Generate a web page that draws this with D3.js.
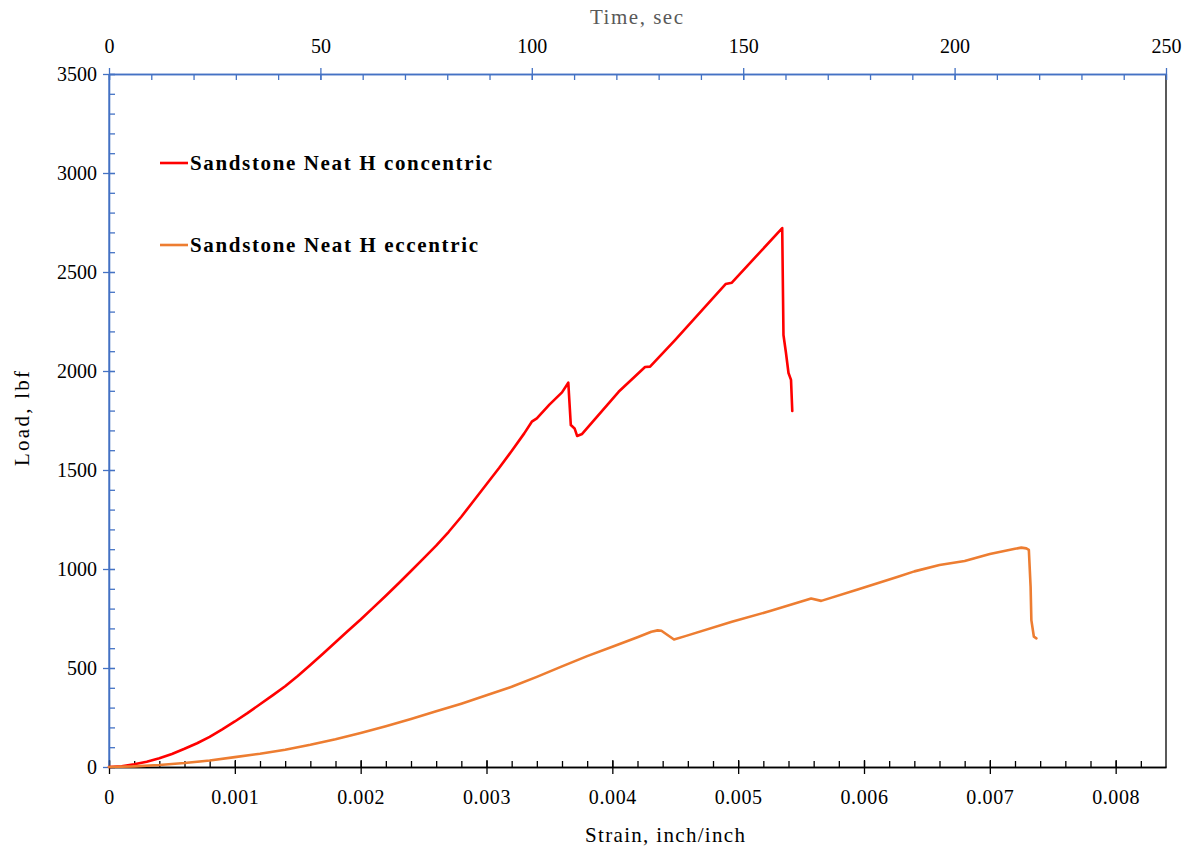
<!DOCTYPE html>
<html>
<head>
<meta charset="utf-8">
<script src="https://cdn.jsdelivr.net/npm/d3@7/dist/d3.min.js"></script>
<style>
  html, body { margin: 0; padding: 0; background: #fff; }
  svg { display: block; }
  text { font-family: "Liberation Serif", "Times New Roman", serif; }
</style>
</head>
<body>
<svg id="chart" width="1191" height="854"></svg>
<script>
// Load vs strain for the two sandstone specimens
const concentricStrain = [0, 0.0001, 0.0002, 0.0003, 0.0004, 0.0005, 0.0006, 0.0007, 0.0008, 0.0009,
  0.001, 0.0011, 0.0012, 0.0013, 0.0014, 0.0015, 0.0016, 0.0017, 0.0018, 0.0019,
  0.002, 0.0021, 0.0022, 0.0023, 0.0024, 0.0025, 0.0026, 0.0027, 0.0028, 0.0029,
  0.003, 0.0031, 0.0032, 0.0033, 0.00336, 0.0034, 0.0035, 0.0036, 0.00365, 0.00367,
  0.0037, 0.00372, 0.00376, 0.00405, 0.00426, 0.0043, 0.0045, 0.0049, 0.00495, 0.00535,
  0.00536, 0.00538, 0.0054, 0.00542, 0.00543];
const concentricLoad = [0, 4, 14, 27, 44, 66, 92, 120, 152, 190,
  230, 272, 317, 362, 408, 460, 515, 572, 630, 688,
  745, 805, 865, 927, 990, 1054, 1118, 1188, 1264, 1346,
  1428, 1510, 1596, 1685, 1744, 1761, 1830, 1892, 1941, 1727,
  1710, 1672, 1682, 1895, 2020, 2022, 2157, 2439, 2446, 2722,
  2182, 2091, 1990, 1955, 1798];

const eccentricStrain = [0, 0.0002, 0.0004, 0.0006, 0.0008, 0.001, 0.0012, 0.0014, 0.0016, 0.0018,
  0.002, 0.0022, 0.0024, 0.0026, 0.0028, 0.003, 0.0032, 0.0034, 0.0036, 0.0038,
  0.004, 0.0042, 0.00431, 0.00436, 0.00439, 0.00449, 0.00458, 0.00495, 0.00526, 0.00558,
  0.00566, 0.00595, 0.00627, 0.0064, 0.0066, 0.0068, 0.007, 0.0072, 0.00725, 0.00729,
  0.00731, 0.007324, 0.00733, 0.00735, 0.00737];
const eccentricLoad = [0, 3, 10, 20, 33, 50, 67, 87, 112, 140,
  172, 206, 242, 281, 320, 362, 405, 455, 508, 560,
  607, 655, 683, 690, 688, 644, 661, 733, 789, 851,
  839, 896, 961, 988, 1020, 1040, 1076, 1102, 1108, 1104,
  1097, 911, 742, 658, 650];

const seriesNames = ["Sandstone Neat H concentric", "Sandstone Neat H eccentric"];
const seriesColors = ["#FF0000", "#ED7D31"];

const strainTicks = [0, 0.001, 0.002, 0.003, 0.004, 0.005, 0.006, 0.007, 0.008];
const loadTicks = [0, 500, 1000, 1500, 2000, 2500, 3000, 3500];
const timeTicks = [0, 50, 100, 150, 200, 250];

const svg = d3.select("#chart");
const plotLeft = 109, plotRight = 1166, plotTop = 74, plotBottom = 767;
const axisBlue = "#4472C4";

const x = d3.scaleLinear().domain([0, 0.0084]).range([plotLeft, plotRight]);
const y = d3.scaleLinear().domain([0, 3500]).range([plotBottom, plotTop]);
const t = d3.scaleLinear().domain([0, 250]).range([plotLeft, plotRight]);

// right border
svg.append("line").attr("x1", plotRight).attr("x2", plotRight).attr("y1", plotTop).attr("y2", plotBottom)
  .attr("stroke", "#000").attr("stroke-width", 1.3);

// ---- left axis (load) ----
const yMinor = svg.append("g").attr("transform", `translate(${plotLeft},0)`)
  .call(d3.axisLeft(y).tickValues(d3.range(0, 3501, 100)).tickSize(0).tickFormat(""));
yMinor.selectAll(".tick line").attr("x1", 0).attr("x2", 6);
const yMajor = svg.append("g").attr("transform", `translate(${plotLeft},0)`)
  .call(d3.axisLeft(y).tickValues(loadTicks).tickSize(0).tickPadding(12).tickFormat(d3.format("d")));
yMajor.selectAll(".tick line").attr("x1", -6).attr("x2", 6);
[yMinor, yMajor].forEach(g => {
  g.selectAll(".domain").attr("stroke", axisBlue).attr("stroke-width", 1.3);
  g.selectAll(".tick line").attr("stroke", axisBlue).attr("stroke-width", 1.3);
});
yMajor.selectAll(".tick text").attr("font-size", 20).attr("fill", "#000")
  .attr("font-family", "Liberation Serif");

// ---- top axis (time) ----
const tMinor = svg.append("g").attr("transform", `translate(0,${plotTop})`)
  .call(d3.axisTop(t).tickValues(d3.range(0, 251, 10)).tickSize(0).tickFormat(""));
tMinor.selectAll(".tick line").attr("y1", 0).attr("y2", 6);
const tMajor = svg.append("g").attr("transform", `translate(0,${plotTop})`)
  .call(d3.axisTop(t).tickValues(timeTicks).tickSize(0).tickPadding(21).tickFormat(d3.format("d")));
tMajor.selectAll(".tick line").attr("y1", -6).attr("y2", 6);
[tMinor, tMajor].forEach(g => {
  g.selectAll(".domain").attr("stroke", axisBlue).attr("stroke-width", 1.3);
  g.selectAll(".tick line").attr("stroke", axisBlue).attr("stroke-width", 1.3);
});
tMajor.selectAll(".tick text").attr("font-size", 20).attr("fill", "#000")
  .attr("font-family", "Liberation Serif");

// ---- bottom axis (strain) ----
const xMinor = svg.append("g").attr("transform", `translate(0,${plotBottom})`)
  .call(d3.axisBottom(x).tickValues(d3.range(0, 42).map(i => i * 0.0002)).tickSize(0).tickFormat(""));
xMinor.selectAll(".tick line").attr("y1", 0).attr("y2", -6);
const xMajor = svg.append("g").attr("transform", `translate(0,${plotBottom})`)
  .call(d3.axisBottom(x).tickValues(strainTicks).tickSize(0).tickPadding(23)
    .tickFormat(d => d === 0 ? "0" : d3.format(".3f")(d)));
xMajor.selectAll(".tick line").attr("y1", -7).attr("y2", 7);
[xMinor, xMajor].forEach(g => {
  g.selectAll(".domain").attr("stroke", "#000").attr("stroke-width", 1.3);
  g.selectAll(".tick line").attr("stroke", "#000").attr("stroke-width", 1.3);
});
xMajor.selectAll(".tick text").attr("font-size", 20).attr("fill", "#000")
  .attr("font-family", "Liberation Serif").attr("letter-spacing", 0.6);

// blue left spine drawn over the start of the bottom axis
svg.append("line").attr("x1", plotLeft).attr("x2", plotLeft).attr("y1", plotTop).attr("y2", plotBottom)
  .attr("stroke", axisBlue).attr("stroke-width", 1.3);

// ---- axis titles ----
svg.append("text").attr("x", 590).attr("y", 24)
  .attr("font-size", 21).attr("fill", "#595959")
  .attr("textLength", 93).attr("lengthAdjust", "spacing").text("Time, sec");
svg.append("text").attr("x", 585).attr("y", 842)
  .attr("font-size", 21).attr("fill", "#000")
  .attr("textLength", 160).attr("lengthAdjust", "spacing").text("Strain, inch/inch");
svg.append("text").attr("transform", "translate(29,466) rotate(-90)")
  .attr("font-size", 21).attr("fill", "#000")
  .attr("textLength", 95).attr("lengthAdjust", "spacing").text("Load, lbf");

// ---- data lines ----
const series = [
  d3.zip(concentricStrain, concentricLoad),
  d3.zip(eccentricStrain, eccentricLoad)
];
const line = d3.line().x(d => x(d[0])).y(d => y(d[1]));
series.forEach((s, i) => {
  svg.append("path").datum(s).attr("d", line)
    .attr("fill", "none").attr("stroke", seriesColors[i]).attr("stroke-width", 2.6)
    .attr("stroke-linejoin", "round").attr("stroke-linecap", "round");
});

// ---- legend ----
const legendY = [163, 245];
const legendWidths = [302, 288];
seriesNames.forEach((name, i) => {
  svg.append("line").attr("x1", 160).attr("x2", 188).attr("y1", legendY[i]).attr("y2", legendY[i])
    .attr("stroke", seriesColors[i]).attr("stroke-width", 2.6);
  svg.append("text").attr("x", 190).attr("y", legendY[i] + 7)
    .attr("font-size", 21).attr("font-weight", "bold").attr("fill", "#000")
    .attr("textLength", legendWidths[i]).attr("lengthAdjust", "spacing").text(name);
});
</script>
</body>
</html>
